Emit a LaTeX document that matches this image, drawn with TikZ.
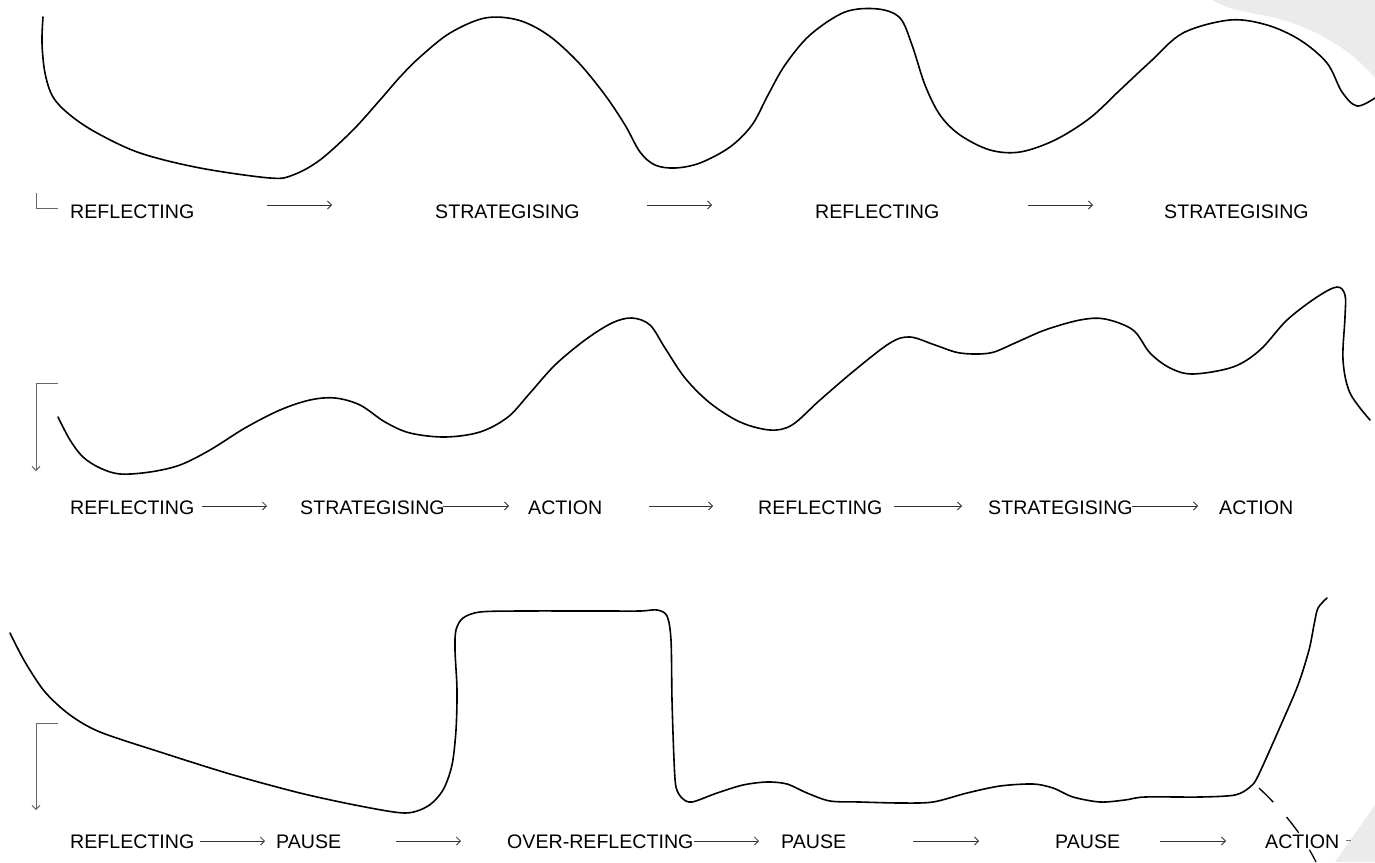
\documentclass[tikz,border=0pt]{standalone}
\usepackage{fontspec}
\setmainfont{Liberation Sans}
\usetikzlibrary{arrows.meta}
\begin{document}
\begin{tikzpicture}[x=1pt,y=-1pt,
  lbl/.style={anchor=base west, inner sep=0pt, font=\fontsize{19.6}{24}\selectfont},
  flow/.style={draw=black!80, line width=0.8pt, -{Straight Barb[length=4pt,width=8pt]}},
  wave/.style={draw=black, line width=1.6pt, line join=round, line cap=round},
  bracket/.style={draw=black!60, line width=1pt},
  bracketarrow/.style={bracket, -{Straight Barb[length=4pt,width=8pt]}},
  shade/.style={fill=black!8, draw=none},
]
\useasboundingbox (0,0) rectangle (1375,862);

% background shapes
\fill[shade] (1212,0) .. controls (1225,8) and (1240,11) .. (1262,15)
  .. controls (1300,22) and (1345,42) .. (1375,78) -- (1375,0) -- cycle;
\fill[shade] (1375,805) -- (1335,862) -- (1375,862) -- cycle;

% ---------- row 1 ----------
\draw[wave] plot[smooth, tension=0.55] coordinates {
 (43,17) (42,43) (45,73) (53,97) (70,115) (97,133) (140,153) (200,168) (270,178)
 (293,175) (320,160) (353,130) (380,100) (400,77) (420,57) (450,33) (485,18)
 (518,20) (548,35) (578,62) (605,95) (625,125) (640,152) (655,165) (675,168)
 (700,163) (730,147) (752,125) (768,95) (785,65) (810,35) (845,12) (878,9)
 (900,18) (912,45) (925,85) (940,115) (960,135) (990,150) (1020,152) (1055,140)
 (1090,118) (1120,90) (1150,62) (1183,33) (1230,20) (1267,25) (1300,40)
 (1327,63) (1342,92) (1357,106) (1375,98)};

\draw[bracket] (36,193) -- (36,208) -- (58,208);
\node[lbl] (r1a) at (70,218) {REFLECTING};
\node[lbl] (r1b) at (435,218) {STRATEGISING};
\node[lbl] (r1c) at (815,218) {REFLECTING};
\node[lbl] (r1d) at (1164,218) {STRATEGISING};
\coordinate (f11s) at (267,205); \coordinate (f11e) at (332,205);
\coordinate (f12s) at (647,205); \coordinate (f12e) at (712,205);
\coordinate (f13s) at (1028,205); \coordinate (f13e) at (1093,205);
\draw[flow] (f11s) -- (f11e);
\draw[flow] (f12s) -- (f12e);
\draw[flow] (f13s) -- (f13e);

% ---------- row 2 ----------
\draw[wave] plot[smooth, tension=0.55] coordinates {
 (58,417) (70,440) (83,457) (100,468) (120,474) (150,472) (180,465) (210,450)
 (245,428) (280,410) (310,400) (335,398) (360,405) (385,422) (410,433) (445,437)
 (480,432) (508,417) (530,393) (555,365) (585,340) (612,323) (632,318) (650,325)
 (665,348) (685,378) (710,403) (740,422) (770,430) (792,425) (820,400) (855,370)
 (890,343) (910,337) (935,345) (960,353) (990,353) (1015,343) (1045,330)
 (1080,320) (1105,319) (1133,330) (1150,353) (1170,368) (1193,374) (1233,367)
 (1260,350) (1287,320) (1317,297) (1337,287) (1345,295) (1345,317) (1343,360)
 (1350,393) (1370,420)};

\draw[bracketarrow] (58,383) -- (36,383) -- (36,471);
\node[lbl] (r2a) at (70,514) {REFLECTING};
\node[lbl] (r2b) at (300,514) {STRATEGISING};
\node[lbl] (r2c) at (528,514) {ACTION};
\node[lbl] (r2d) at (758,514) {REFLECTING};
\node[lbl] (r2e) at (988,514) {STRATEGISING};
\node[lbl] (r2f) at (1219,514) {ACTION};
\coordinate (f21s) at (202,506); \coordinate (f21e) at (267,506);
\coordinate (f22s) at (443,506); \coordinate (f22e) at (509,506);
\coordinate (f23s) at (649,506); \coordinate (f23e) at (713,506);
\coordinate (f24s) at (894,506); \coordinate (f24e) at (962,506);
\coordinate (f25s) at (1132,506); \coordinate (f25e) at (1198,506);
\draw[flow] (f21s) -- (f21e);
\draw[flow] (f22s) -- (f22e);
\draw[flow] (f23s) -- (f23e);
\draw[flow] (f24s) -- (f24e);
\draw[flow] (f25s) -- (f25e);

% ---------- row 3 ----------
\draw[wave] plot[smooth, tension=0.5] coordinates {
 (10,633) (25,662) (45,692) (70,715) (100,732) (160,752) (230,774) (300,793)
 (360,806) (405,813) (428,806) (443,790) (452,765) (456,730) (457,690) (455,650)
 (456,630) (463,618) (480,612) (520,611) (600,611) (640,611) (657,610) (667,616)
 (671,640) (672,700) (674,760) (676,787) (682,798) (692,802) (717,793) (743,785)
 (767,782) (787,784) (807,793) (830,801) (860,802) (900,803) (933,802) (967,793)
 (1000,786) (1033,784) (1053,788) (1073,797) (1100,802) (1125,800) (1145,797)
 (1200,797) (1235,795) (1250,787) (1258,776) (1280,727) (1298,685) (1309,650)
 (1314,625) (1318,608) (1327,598)};

\draw[wave, line width=1.3pt, dash pattern=on 20pt off 20pt, line cap=butt]
  (1259,788) .. controls (1280,808) and (1300,830) .. (1316,862);
\draw[draw=black!55, line width=1pt] (1346,840) -- (1351,840);

\draw[bracketarrow] (58,723) -- (36,723) -- (36,810);
\node[lbl] (r3a) at (70,848) {REFLECTING};
\node[lbl] (r3b) at (276,848) {PAUSE};
\node[lbl] (r3c) at (507,848) {OVER-REFLECTING};
\node[lbl] (r3d) at (781,848) {PAUSE};
\node[lbl] (r3e) at (1055,848) {PAUSE};
\node[lbl] (r3f) at (1265,848) {ACTION};
\coordinate (f31s) at (200,841); \coordinate (f31e) at (265,841);
\coordinate (f32s) at (396,841); \coordinate (f32e) at (461,841);
\coordinate (f33s) at (694,841); \coordinate (f33e) at (759,841);
\coordinate (f34s) at (913,841); \coordinate (f34e) at (979,841);
\coordinate (f35s) at (1160,841); \coordinate (f35e) at (1226,841);
\draw[flow] (f31s) -- (f31e);
\draw[flow] (f32s) -- (f32e);
\draw[flow] (f33s) -- (f33e);
\draw[flow] (f34s) -- (f34e);
\draw[flow] (f35s) -- (f35e);
\end{tikzpicture}
\end{document}
